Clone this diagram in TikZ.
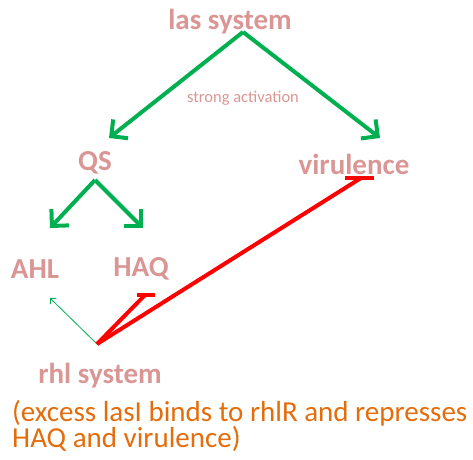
\documentclass[tikz,border=0pt]{standalone}
\usepackage{fontspec}
\setmainfont{Carlito}
\usepackage{xcolor}
\usetikzlibrary{arrows.meta}
\definecolor{labelpink}{RGB}{217,150,148}
\definecolor{actgreen}{RGB}{0,176,80}
\definecolor{repred}{RGB}{255,0,0}
\definecolor{noteorange}{RGB}{228,108,10}
\tikzset{>=latex}

\begin{document}
\begin{tikzpicture}[x=1pt, y=-1pt,
	label/.style={text=labelpink, font=\bfseries\fontsize{29}{31}\selectfont, inner sep=0pt},
	activ/.style={-{Straight Barb[length=12pt,width=24pt,line width=4pt]}, line width=4pt, draw=actgreen},
	repress/.style={line width=4pt, draw=repred},
	note/.style={text=noteorange, font=\fontsize{29}{31}\selectfont, inner sep=0pt, anchor=west}]
	\useasboundingbox (0,0) rectangle (473,459);

	%% Labels
	\node[label] (las) at (230,22) {las system};
	\node[text=labelpink, font=\fontsize{16.5}{18}\selectfont, inner sep=0pt] (strong) at (243,98) {strong activation};
	\node[label] (QS) at (95,163) {QS};
	\node[label] (vir) at (354,164) {virulence};
	\node[label] (AHL) at (35,269) {AHL};
	\node[label] (HAQ) at (141,269) {HAQ};
	\node[label] (rhl) at (100,376) {rhl system};
	\node[note] (note1) at (12,413) {(excess lasI binds to rhlR and represses};
	\node[note] (note2) at (12,439) {HAQ and virulence)};

	%% Connector ends
	\coordinate (lasTip) at (243,32);
	\coordinate (QStip) at (95,180);
	\coordinate (rhlTip) at (97,344);
	\coordinate (virBar) at (361,178);
	\coordinate (HAQbar) at (145,295);

	%% Activation
	\draw[activ] (lasTip) -- (109,138);
	\draw[activ] (lasTip) -- (380,138);
	\draw[activ] (QStip) -- (50,228);
	\draw[activ] (QStip) -- (143,228);
	\draw[-{Straight Barb[length=4pt,width=8pt]}, actgreen, line width=0.8pt] (rhlTip) -- (50,298);

	%% Repression
	\draw[repress] (rhlTip) -- (virBar);
	\draw[repress] (virBar) ++(-16,0) -- ++(29,0);
	\draw[repress] (rhlTip) -- (HAQbar);
	\draw[repress] (HAQbar) ++(-8,0) -- ++(18,0);
\end{tikzpicture}
\end{document}
